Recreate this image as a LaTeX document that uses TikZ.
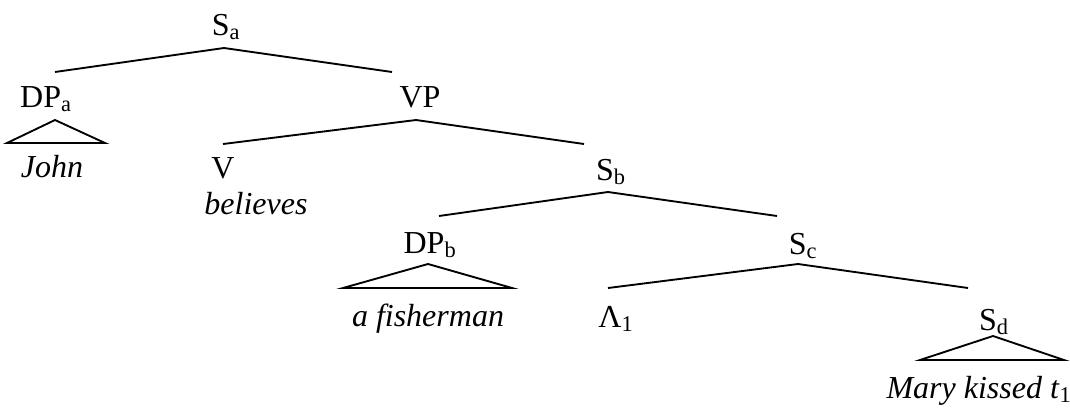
\documentclass[tikz,border=0pt]{standalone}
\usepackage{fontspec}
\setmainfont{Liberation Serif}
\begin{document}
\begin{tikzpicture}[x=0.75pt,y=-0.75pt,
  lbl/.style={anchor=base,inner sep=0pt,outer sep=0pt,font=\fontsize{24}{28}\selectfont},
  branch/.style={line width=1.4pt,line join=miter},
  tri/.style={line width=1.4pt,line join=miter}]
\useasboundingbox (0,0) rectangle (1070,408);
% labels
\node[lbl] (Sa) at (226,35) {S\textsubscript{a}};
\node[lbl] (DPa) at (46,107) {DP\textsubscript{a}};
\node[lbl] (VP) at (420,107) {VP};
\node[lbl] (John) at (52,177) {\textit{John}};
\node[lbl] (V) at (223,178) {V};
\node[lbl] (believes) at (256,214) {\textit{believes}};
\node[lbl] (Sb) at (611,180) {S\textsubscript{b}};
\node[lbl] (DPb) at (430,253) {DP\textsubscript{b}};
\node[lbl] (Sc) at (803,254) {S\textsubscript{c}};
\node[lbl] (fisher) at (428,326) {\textit{a fisherman}};
\node[lbl] (Lam) at (616,327) {Λ\textsubscript{1}};
\node[lbl] (Sd) at (994,330) {S\textsubscript{d}};
\node[lbl] (Mary) at (979,398) {\textit{Mary kissed t}\textsubscript{1}};
% branch points
\coordinate (aTop) at (224,48);
\coordinate (aL) at (55,72);
\coordinate (aR) at (392,72);
\coordinate (vpTop) at (416,120);
\coordinate (vpL) at (223,144);
\coordinate (vpR) at (584,144);
\coordinate (bTop) at (608,192);
\coordinate (bL) at (439,216);
\coordinate (bR) at (777,216);
\coordinate (cTop) at (798,264);
\coordinate (cL) at (608,288);
\coordinate (cR) at (968,288);
% triangles
\coordinate (t1Top) at (55,120);
\coordinate (t1L) at (7,143);
\coordinate (t1R) at (105,143);
\coordinate (t2Top) at (428,264);
\coordinate (t2L) at (343,288);
\coordinate (t2R) at (512,288);
\coordinate (t3Top) at (993,336);
\coordinate (t3L) at (920,360);
\coordinate (t3R) at (1064,360);
% connectors
\draw[branch] (aL) -- (aTop) -- (aR);
\draw[branch] (vpL) -- (vpTop) -- (vpR);
\draw[branch] (bL) -- (bTop) -- (bR);
\draw[branch] (cL) -- (cTop) -- (cR);
\draw[tri] (t1Top) -- (t1L) -- (t1R) -- cycle;
\draw[tri] (t2Top) -- (t2L) -- (t2R) -- cycle;
\draw[tri] (t3Top) -- (t3L) -- (t3R) -- cycle;
\end{tikzpicture}
\end{document}
